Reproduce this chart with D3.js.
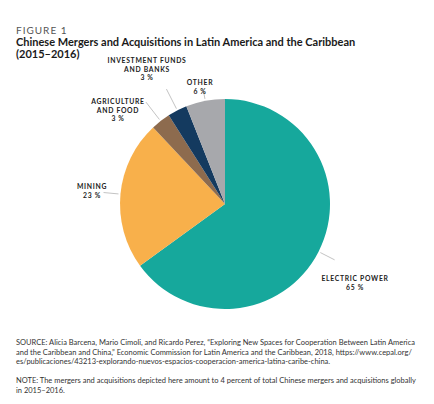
<!DOCTYPE html>
<html>
<head>
<meta charset="utf-8">
<script src="https://cdn.jsdelivr.net/npm/d3@7"></script>
<style>
  body { margin: 0; background: #fff; }
  svg { display: block; font-family: Lato, "Open Sans", sans-serif; }
</style>
</head>
<body>
<div id="chart"></div>
<script>
// data
var sectors = ["ELECTRIC POWER", "MINING", "AGRICULTURE AND FOOD", "INVESTMENT FUNDS AND BANKS", "OTHER"];
var shares = [65, 23, 3, 3, 6];
var colors = ["#16a89c", "#f8b04b", "#8d6b4e", "#143a5f", "#a7a8ac"];

// label text split in lines, and placement relative to pie centre
var labelLines = [
    ["ELECTRIC POWER"],
    ["MINING"],
    ["AGRICULTURE", "AND FOOD"],
    ["INVESTMENT FUNDS", "AND BANKS"],
    ["OTHER"]
];
var labelPos = [[130, 77], [-133, -15], [-107, -100], [-78, -141], [-25, -119]];
var leaderLen = [16, 15, 22, 22, 8];

var sourceLines = [
    "SOURCE: Alicia Barcena, Mario Cimoli, and Ricardo Perez, \u201cExploring New Spaces for Cooperation Between Latin America",
    "and the Caribbean and China,\u201d Economic Commission for Latin America and the Caribbean, 2018, https://www.cepal.org/",
    "es/publicaciones/43213-explorando-nuevos-espacios-cooperacion-america-latina-caribe-china."
];
var noteLines = [
    "NOTE: The mergers and acquisitions depicted here amount to 4 percent of total Chinese mergers and acquisitions globally",
    "in 2015\u20132016."
];

var width = 434, height = 404;
var cx = 225, cy = 204, radius = 105;

var svg = d3.select("#chart").append("svg")
    .attr("width", width)
    .attr("height", height);

//heading
svg.append("text")
    .attr("x", 16).attr("y", 34)
    .attr("fill", "#555")
    .attr("font-size", 10)
    .attr("letter-spacing", 1)
    .text("FIGURE 1");

var title = svg.append("text")
    .attr("font-size", 11)
    .attr("font-weight", "bold")
    .attr("fill", "#1a1a1a");
title.append("tspan").attr("x", 16).attr("y", 46)
    .text("Chinese Mergers and Acquisitions in Latin America and the Caribbean");
title.append("tspan").attr("x", 16).attr("y", 58)
    .text("(2015\u20132016)");

//pie
var data = sectors.map(function(d, i) { return {name: d, value: shares[i], i: i}; });

var pie = d3.pie()
    .sort(null)
    .value(function(d) { return d.value; });

var arc = d3.arc()
    .innerRadius(0)
    .outerRadius(radius);

var g = svg.append("g")
    .attr("transform", "translate(" + cx + "," + cy + ")");

var arcs = pie(data);

g.selectAll("path")
    .data(arcs)
    .enter().append("path")
    .attr("d", arc)
    .attr("fill", function(d) { return colors[d.data.i]; });

//leader lines
g.selectAll("line")
    .data(arcs)
    .enter().append("line")
    .attr("x1", function(d) { var a = (d.startAngle + d.endAngle) / 2; return Math.sin(a) * (radius + 2); })
    .attr("y1", function(d) { var a = (d.startAngle + d.endAngle) / 2; return -Math.cos(a) * (radius + 2); })
    .attr("x2", function(d) { var a = (d.startAngle + d.endAngle) / 2; return Math.sin(a) * (radius + 2 + leaderLen[d.data.i]); })
    .attr("y2", function(d) { var a = (d.startAngle + d.endAngle) / 2; return -Math.cos(a) * (radius + 2 + leaderLen[d.data.i]); })
    .attr("stroke", "#9a9a9a")
    .attr("stroke-width", 0.6);

//labels
var labels = g.selectAll("text.label")
    .data(arcs)
    .enter().append("text")
    .attr("class", "label")
    .attr("text-anchor", "middle")
    .attr("font-size", 6.8)
    .attr("font-weight", "bold")
    .attr("letter-spacing", 0.7)
    .attr("fill", "#222");

labels.each(function(d) {
    var t = d3.select(this);
    var p = labelPos[d.data.i];
    var lines = labelLines[d.data.i].concat([d.data.value + " %"]);
    lines.forEach(function(l, k) {
        t.append("tspan")
            .attr("x", p[0])
            .attr("y", p[1] + k * 8.7)
            .text(l);
    });
});

//source and note
var foot = svg.append("g")
    .attr("font-size", 7.5)
    .attr("fill", "#333");

foot.selectAll("text.src")
    .data(sourceLines)
    .enter().append("text")
    .attr("class", "src")
    .attr("x", 16)
    .attr("y", function(d, i) { return 345 + i * 9.6; })
    .text(function(d) { return d; });

foot.selectAll("text.note")
    .data(noteLines)
    .enter().append("text")
    .attr("class", "note")
    .attr("x", 16)
    .attr("y", function(d, i) { return 383 + i * 9.6; })
    .text(function(d) { return d; });
</script>
</body>
</html>
